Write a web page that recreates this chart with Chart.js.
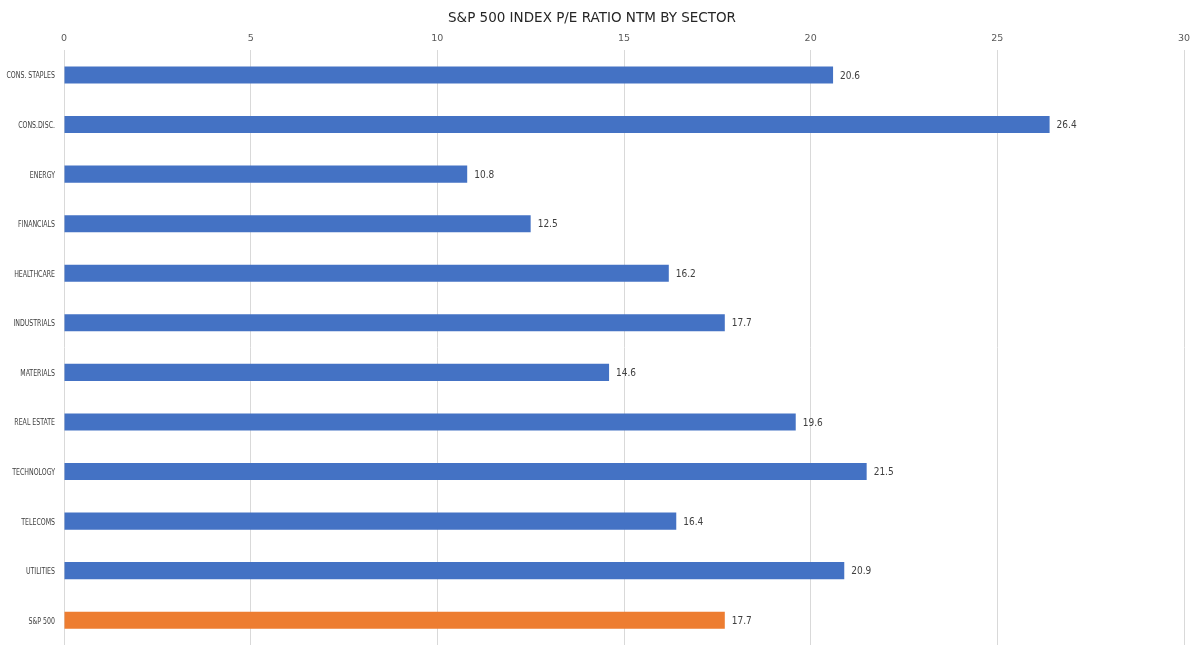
<!DOCTYPE html>
<html>
<head>
<meta charset="utf-8">
<script src="https://cdn.jsdelivr.net/npm/chart.js@4"></script>
<style>
  html, body { margin: 0; padding: 0; background: #fff; }
  #wrap { width: 1200px; height: 656px; }
</style>
</head>
<body>
<div id="wrap"><canvas id="c" width="1200" height="656"></canvas></div>
<script>
const categories = ["CONS. STAPLES", "CONS.DISC.", "ENERGY", "FINANCIALS", "HEALTHCARE", "INDUSTRIALS", "MATERIALS", "REAL ESTATE", "TECHNOLOGY", "TELECOMS", "UTILITIES", "S&P 500"];
const peRatio = [20.6, 26.4, 10.8, 12.5, 16.2, 17.7, 14.6, 19.6, 21.5, 16.4, 20.9, 17.7];
const xTicks = [0, 5, 10, 15, 20, 25, 30];

const FONT = "'DejaVu Sans Condensed', 'Liberation Sans Narrow', Roboto, sans-serif";
const TITLE_FONT = "'DejaVu Sans', Roboto, sans-serif";
const BLUE = "#4472C4", ORANGE = "#ED7D31";
const colors = categories.map(c => c === "S&P 500" ? ORANGE : BLUE);

const labelsPlugin = {
  id: 'labelsPlugin',
  afterDatasetsDraw(chart) {
    const ctx = chart.ctx;
    const meta = chart.getDatasetMeta(0);
    const yScale = chart.scales.y;
    ctx.save();
    // value labels
    ctx.font = "10px " + FONT;
    ctx.fillStyle = "#404040";
    ctx.textAlign = "left";
    ctx.textBaseline = "middle";
    meta.data.forEach((el, i) => {
      ctx.fillText(peRatio[i].toFixed(1), el.x + 7, el.y + 1);
    });
    // category labels (condensed)
    ctx.font = "9.5px " + FONT;
    ctx.textAlign = "right";
    const sx = 0.73;
    categories.forEach((c, i) => {
      const y = yScale.getPixelForValue(i);
      ctx.save();
      ctx.translate(55, y + 1);
      ctx.scale(sx, 1);
      ctx.fillText(c, 0, 0);
      ctx.restore();
    });
    ctx.restore();
  }
};

new Chart(document.getElementById('c'), {
  type: 'bar',
  data: {
    labels: categories,
    datasets: [{
      data: peRatio,
      backgroundColor: colors,
      borderWidth: 0,
      categoryPercentage: 1,
      barPercentage: 0.345
    }]
  },
  options: {
    indexAxis: 'y',
    responsive: false,
    animation: false,
    layout: { padding: { top: 0, right: 16, bottom: 11, left: 0 } },
    plugins: {
      legend: { display: false },
      tooltip: { enabled: false },
      title: {
        display: true,
        text: "S&P 500 INDEX P/E RATIO NTM BY SECTOR",
        color: "#262626",
        font: { family: TITLE_FONT, size: 13.5, weight: 'normal', lineHeight: 1.2 },
        padding: { top: 10, bottom: 6 }
      }
    },
    scales: {
      x: {
        position: 'top',
        min: 0,
        max: 30,
        afterBuildTicks: (s) => { s.ticks = xTicks.map(v => ({ value: v })); },
        afterFit: (s) => { s.height = 18; },
        grid: { color: "#d9d9d9", drawTicks: false, lineWidth: 1 },
        border: { display: false },
        ticks: { color: "#595959", padding: 6, font: { family: TITLE_FONT, size: 9.5 } }
      },
      y: {
        afterFit: (s) => { s.width = 64; },
        grid: { display: false, drawTicks: false },
        border: { display: false },
        ticks: { display: false }
      }
    }
  },
  plugins: [labelsPlugin]
});
</script>
</body>
</html>
